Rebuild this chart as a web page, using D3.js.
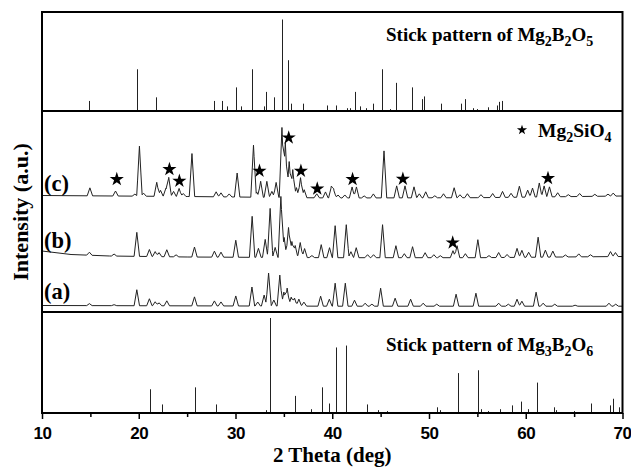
<!DOCTYPE html>
<html><head><meta charset="utf-8">
<script src="https://cdn.jsdelivr.net/npm/d3@7"></script>
<style>body{margin:0;background:#fff}</style>
</head><body>
<script>
// ---------- DATA ----------
const xTicks = [10, 20, 30, 40, 50, 60, 70];
const xMinorTicks = [15, 25, 35, 45, 55, 65];

// Stick pattern of Mg2B2O5 [2theta, relative intensity]
const mg2b2o5Sticks = [[14.9,10],[19.86,45],[21.76,14],[27.76,10],[28.62,10],[29.1,4],[30.0,25],[30.55,4],[31.7,45],[32.93,4],[33.17,20],[34.0,14],[34.8,100],[35.42,55],[35.76,7],[36.97,7],[39.41,5],[40.38,5],[41.5,2],[41.86,2],[42.38,20],[42.83,4],[43.52,2],[44.19,7],[45.12,45],[45.95,1],[46.64,30],[48.2,25],[49.27,12],[49.5,15],[51.27,7],[53.28,7],[53.76,12],[54.59,2],[55.0,1],[56.09,3],[56.99,5],[57.2,9],[57.5,10]];

// Stick pattern of Mg3B2O6 [2theta, relative intensity]
const mg3b2o6Sticks = [[21.12,25],[22.45,9],[25.8,27],[27.94,9],[33.15,3],[33.55,100],[36.1,18],[37.83,4],[38.95,27],[39.66,10],[40.4,69],[41.45,71],[43.59,9],[44.76,3],[45.7,2],[50.86,6],[51.14,3],[53.01,42],[54.17,1],[55.03,45],[55.34,4],[56.12,2],[57.37,4],[58.58,8],[59.55,12],[60.25,4],[61.18,32],[62.97,6],[63.17,3],[65.0,2],[66.72,10],[68.74,8],[69.02,15],[69.68,6]];

// XRD traces: background level points [2theta, a.u.] and peaks [2theta, height a.u.]
const bgA = [[10,6.5],[40,5.8],[70,5.8]];
const peaksA = [[14.9,2],[17.45,1],[19.8,16],[21.1,7],[21.7,4],[22.1,3],[22.9,5],[25.76,9],[27.82,5],[28.5,4],[30.03,10],[31.7,19],[32.3,4],[32.96,11],[33.42,33],[33.96,6],[34.58,31],[35.0,14],[35.34,18],[35.76,9],[36.1,8],[36.55,7],[37.07,4],[38.8,10],[39.7,7],[40.3,23],[41.35,23],[42.3,6],[43.4,3],[44.1,2],[45.0,18],[46.5,8],[48.1,7],[49.4,3],[50.8,2],[52.8,12],[54.85,13],[57.2,3],[58.2,2],[59.1,7],[59.6,5],[61.07,14],[61.8,3],[63.0,2],[65.1,1],[68.6,3],[69.3,2]];

const bgB = [[10,61],[13,57.5],[17,56],[25,55],[40,54.3],[55,54.3],[70,55.5]];
const peaksB = [[14.9,3],[17.45,2],[19.8,24],[21.1,7],[21.7,5],[22.1,4],[22.9,7],[23.86,2],[25.76,10],[27.82,6],[28.5,5],[30.03,17],[31.72,41],[32.37,9],[33.07,18],[33.58,49],[34.1,10],[34.69,61],[35.03,20],[35.48,30],[35.83,16],[36.17,12],[36.69,15],[37.14,9],[37.9,2],[38.86,13],[39.72,10],[40.3,32],[41.45,33],[41.93,6],[42.48,10],[43.65,3],[44.27,3],[45.2,33],[46.58,12],[47.45,4],[48.3,11],[49.6,5],[50.5,3],[51.17,2],[52.48,7],[52.9,12],[53.76,4],[55.05,18],[56.2,2],[57.2,5],[58.07,3],[59.1,9],[59.6,7],[60.3,5],[61.28,20],[62.03,7],[62.8,6],[64.1,2],[65.48,3],[66.69,2],[68.76,5],[69.27,4]];

const bgC = [[10,116.5],[25,115.5],[40,114],[55,114.3],[70,116]];
const peaksC = [[14.95,8],[17.6,5],[19.6,2],[20.07,50],[20.5,3],[21.86,14],[22.25,6],[22.8,8],[23.1,19],[23.6,5],[24.17,8],[24.6,3],[25.5,43],[28.0,5],[28.5,4],[29.35,3],[30.17,24],[31.86,52],[32.2,5],[32.6,16],[33.24,16],[33.76,6],[34.2,15],[34.8,70],[35.15,55],[35.55,36],[35.92,28],[36.3,10],[36.72,20],[37.1,8],[38.4,4],[39.3,6],[39.9,11],[40.15,8],[40.6,3],[41.3,3],[42.05,11],[42.5,11],[43.3,2],[44.25,4],[45.35,47],[46.66,12],[47.52,12],[48.45,11],[49.0,4],[49.66,6],[50.6,2],[51.5,4],[52.6,10],[53.2,3],[53.97,4],[55.37,3],[56.58,4],[57.6,6],[58.48,4],[59.34,11],[60.2,7],[60.7,9],[61.4,14],[61.9,11],[62.45,10],[63.3,4],[64.4,2],[65.57,3],[67.14,2],[68.5,2],[69.04,3]];

// Mg2SiO4 star markers [2theta, a.u.]
const starsC = [[17.73,132.7],[23.17,142.7],[24.2,131],[32.48,141],[35.5,174.3],[36.76,141],[38.45,123.2],[42.1,132.7],[47.3,133],[62.3,133.7]];
const starsB = [[52.45,69.3]];

const traceLabels = ["(a)", "(b)", "(c)"];

// ---------- LAYOUT ----------
const W = 631, H = 469;
const L = 42, R = 622.5, T = 12, D1 = 111, D2 = 312, B = 413;
const serif = "'Liberation Serif','Times New Roman',serif";
const sans = "'Liberation Sans',Arial,sans-serif";

const svg = d3.select("body").append("svg").attr("width", W).attr("height", H);

const x = d3.scaleLinear().domain([10, 70]).range([L, R]);
const yTop = d3.scaleLinear().domain([0, 100]).range([110, 19.5]);
const yMid = d3.scaleLinear().domain([0, 200]).range([312, 112]);
const yBot = d3.scaleLinear().domain([0, 100]).range([B, 318]);

// sticks
function drawSticks(data, y) {
  svg.append("g").selectAll("line").data(data).join("line")
    .attr("x1", d => Math.round(x(d[0])) + 0.5).attr("x2", d => Math.round(x(d[0])) + 0.5)
    .attr("y1", y(0)).attr("y2", d => y(d[1]))
    .attr("stroke", "#222").attr("stroke-width", 1);
}
drawSticks(mg2b2o5Sticks, yTop);
drawSticks(mg3b2o6Sticks, yBot);

// traces: background (linear between read points) + triangular peak marks
const HW = 0.28;
function buildTrace(bg, peaks) {
  let xs = new Set();
  bg.forEach(p => xs.add(p[0]));
  peaks.forEach(p => { xs.add(p[0] - HW); xs.add(p[0]); xs.add(p[0] + HW); });
  xs = Array.from(xs).filter(v => v >= 10 && v <= 70).sort((a, b) => a - b);
  const bgScale = d3.scaleLinear().domain(bg.map(p => p[0])).range(bg.map(p => p[1]));
  return xs.map(v => {
    let yv = bgScale(v);
    peaks.forEach(p => { const t = 1 - Math.abs(v - p[0]) / HW; if (t > 0) yv += p[1] * t; });
    return [v, yv];
  });
}
const line = d3.line().x(d => x(d[0])).y(d => yMid(d[1]));
[[bgA, peaksA], [bgB, peaksB], [bgC, peaksC]].forEach(([bg, pk]) => {
  svg.append("path").datum(buildTrace(bg, pk)).attr("d", line)
    .attr("fill", "none").attr("stroke", "#222").attr("stroke-width", 1)
    .attr("stroke-linejoin", "round");
});

// stars
const starBig = d3.symbol().type(d3.symbolStar).size(62);
svg.append("g").selectAll("path").data(starsC.concat(starsB)).join("path")
  .attr("d", starBig).attr("transform", d => `translate(${x(d[0])},${yMid(d[1])})`)
  .attr("fill", "#000");

// trace labels
const labelY = [299, 248, 191];
traceLabels.forEach((t, i) => {
  svg.append("text").attr("x", 44).attr("y", labelY[i]).text(t)
    .attr("font-family", serif).attr("font-weight", "bold").attr("font-size", 22.5);
});

// legend Mg2SiO4
svg.append("path").attr("d", d3.symbol().type(d3.symbolStar).size(32)())
  .attr("transform", "translate(522,130)").attr("fill", "#000");
const leg = svg.append("text").attr("x", 538).attr("y", 137)
  .attr("font-family", serif).attr("font-weight", "bold").attr("font-size", 19.5);
leg.append("tspan").text("Mg");
leg.append("tspan").text("2").attr("font-size", 14).attr("dy", 5);
leg.append("tspan").text("SiO").attr("dy", -5);
leg.append("tspan").text("4").attr("font-size", 14).attr("dy", 5);

// stick labels
function chem(xp, yp, parts) {
  const t = svg.append("text").attr("x", xp).attr("y", yp)
    .attr("font-family", serif).attr("font-weight", "bold").attr("font-size", 19);
  parts.forEach(p => {
    if (p.sub) t.append("tspan").text(p.t).attr("font-size", 14).attr("dy", 5);
    else t.append("tspan").text(p.t).attr("dy", p.back ? -5 : 0);
  });
}
chem(386, 41, [{t:"Stick pattern of Mg"},{t:"2",sub:1},{t:"B",back:1},{t:"2",sub:1},{t:"O",back:1},{t:"5",sub:1}]);
chem(386, 351, [{t:"Stick pattern of Mg"},{t:"3",sub:1},{t:"B",back:1},{t:"2",sub:1},{t:"O",back:1},{t:"6",sub:1}]);

// frame and dividers
svg.append("rect").attr("x", L).attr("y", T).attr("width", R - L).attr("height", B - T)
  .attr("fill", "none").attr("stroke", "#000").attr("stroke-width", 2);
[D1, D2].forEach(yv => svg.append("line").attr("x1", L).attr("x2", R).attr("y1", yv).attr("y2", yv)
  .attr("stroke", "#000").attr("stroke-width", 2));

// x axis
const ax = svg.append("g").attr("transform", `translate(0,${B})`)
  .call(d3.axisBottom(x).tickValues(xTicks).tickSize(6).tickPadding(8).tickFormat(d3.format("d")));
ax.select(".domain").remove();
ax.selectAll("line").attr("stroke-width", 1.5);
ax.selectAll("text").attr("font-family", sans).attr("font-weight", "bold").attr("font-size", 17)
  .attr("letter-spacing", "-0.5px").attr("fill", "#000");
ax.selectAll("text").filter(d => d === 70).attr("text-anchor", "end").attr("dx", 8.5);
const axm = svg.append("g").attr("transform", `translate(0,${B})`)
  .call(d3.axisBottom(x).tickValues(xMinorTicks).tickSize(4).tickFormat(""));
axm.select(".domain").remove();
axm.selectAll("line").attr("stroke-width", 1.5);

// axis titles
svg.append("text").attr("x", (L + R) / 2).attr("y", 462).attr("text-anchor", "middle")
  .attr("font-family", serif).attr("font-weight", "bold").attr("font-size", 21).text("2 Theta (deg)");
svg.append("text").attr("transform", "translate(28,212) rotate(-90)").attr("text-anchor", "middle")
  .attr("font-family", serif).attr("font-weight", "bold").attr("font-size", 22).text("Intensity (a.u.)");
</script>
</body></html>
